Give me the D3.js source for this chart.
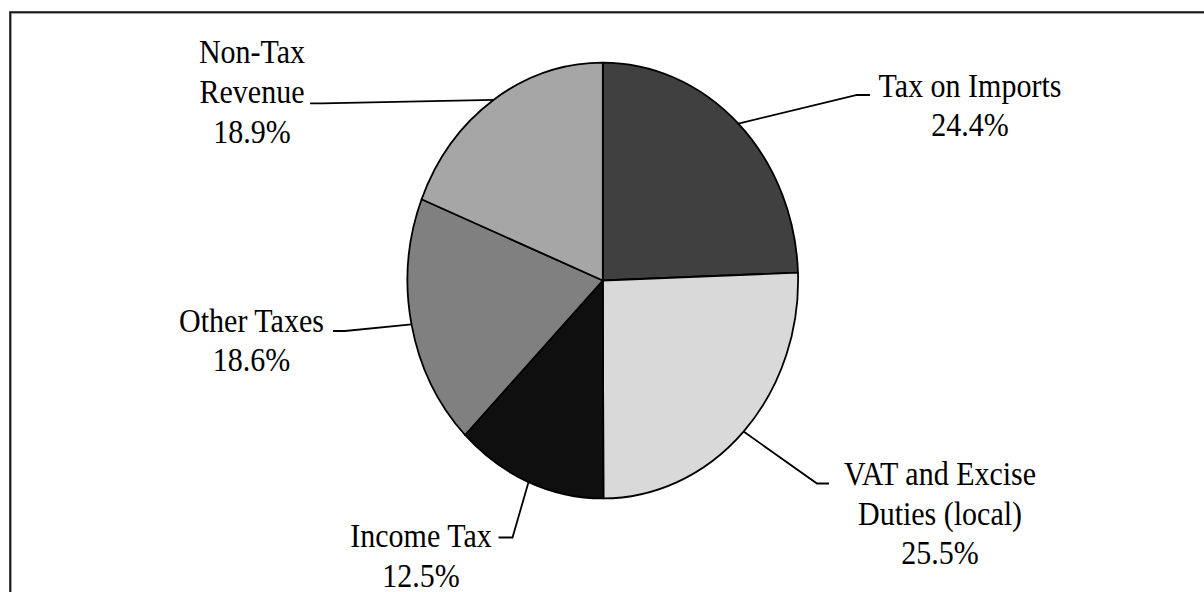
<!DOCTYPE html>
<html>
<head>
<meta charset="utf-8">
<script src="https://cdn.jsdelivr.net/npm/d3@7"></script>
<style>
  html, body { margin: 0; padding: 0; background: #fff; overflow: hidden; }
  svg { display: block; }
</style>
</head>
<body>
<svg id="chart" width="1204" height="592"></svg>
<script>
// Revenue composition (share of total, %)
const categories = ["Tax on Imports", "VAT and Excise Duties (local)", "Income Tax", "Other Taxes", "Non-Tax Revenue"];
const shares = [24.4, 25.5, 12.5, 18.6, 18.9];
const labelLines = [["Tax on Imports"], ["VAT and Excise", "Duties (local)"], ["Income Tax"], ["Other Taxes"], ["Non-Tax", "Revenue"]];
const fills = ["#404040", "#d9d9d9", "#0f0f0f", "#808080", "#a6a6a6"];

// Label placement: text centre x, first baseline y, leader elbow and end points
const labelLayout = [
  { x: 970, y: 96.7, elbow: [857, 95], end: [870, 95] },
  { x: 940, y: 485, elbow: [817, 483.5], end: [829, 483.5] },
  { x: 421, y: 547.3, elbow: [512.5, 537.5], end: [498.5, 537.5] },
  { x: 251.5, y: 331.7, elbow: [345, 331], end: [333, 331] },
  { x: 252, y: 63.3, elbow: [322, 103.3], end: [310, 103.3] }
];

const svg = d3.select("#chart");
const cx = 602.8, cy = 280.5, r = 195.3, stretch = 1.116;
const lineGap = 39.6;
const fmt = d3.format(".1f");

// Outer frame (runs past the right and bottom edges)
svg.append("rect")
  .attr("x", 10.3).attr("y", 12.3)
  .attr("width", 1300).attr("height", 700)
  .attr("fill", "none").attr("stroke", "#1a1a1a").attr("stroke-width", 2.2);

const pie = d3.pie().sort(null).value(d => d)(shares);
const arc = d3.arc().innerRadius(0).outerRadius(r);
const edge = d3.arc().innerRadius(r).outerRadius(r);

const g = svg.append("g").attr("transform", `translate(${cx},${cy}) scale(1,${stretch})`);
g.selectAll("path").data(pie).join("path")
  .attr("d", arc)
  .attr("fill", (d, i) => fills[i])
  .attr("stroke", "#000")
  .attr("stroke-width", 1.8)
  .attr("vector-effect", "non-scaling-stroke")
  .attr("stroke-linejoin", "round");

// Leader lines from the slice mid-angle on the rim
pie.forEach((d, i) => {
  const c = edge.centroid(d);
  const p0 = [cx + c[0], cy + c[1] * stretch];
  const L = labelLayout[i];
  svg.append("path")
    .attr("d", d3.line()([p0, L.elbow, L.end]))
    .attr("fill", "none").attr("stroke", "#000").attr("stroke-width", 1.8);
});

// Labels: name lines then percentage
pie.forEach((d, i) => {
  const L = labelLayout[i];
  const lines = labelLines[i].concat([fmt(shares[i]) + "%"]);
  lines.forEach((t, k) => {
    svg.append("text")
      .attr("transform", `translate(${L.x},${L.y + k * lineGap}) scale(1,1.115)`)
      .attr("text-anchor", "middle")
      .attr("font-family", "'Liberation Serif', 'Times New Roman', serif")
      .attr("font-size", 30)
      .attr("fill", "#000")
      .text(t);
  });
});
</script>
</body>
</html>
